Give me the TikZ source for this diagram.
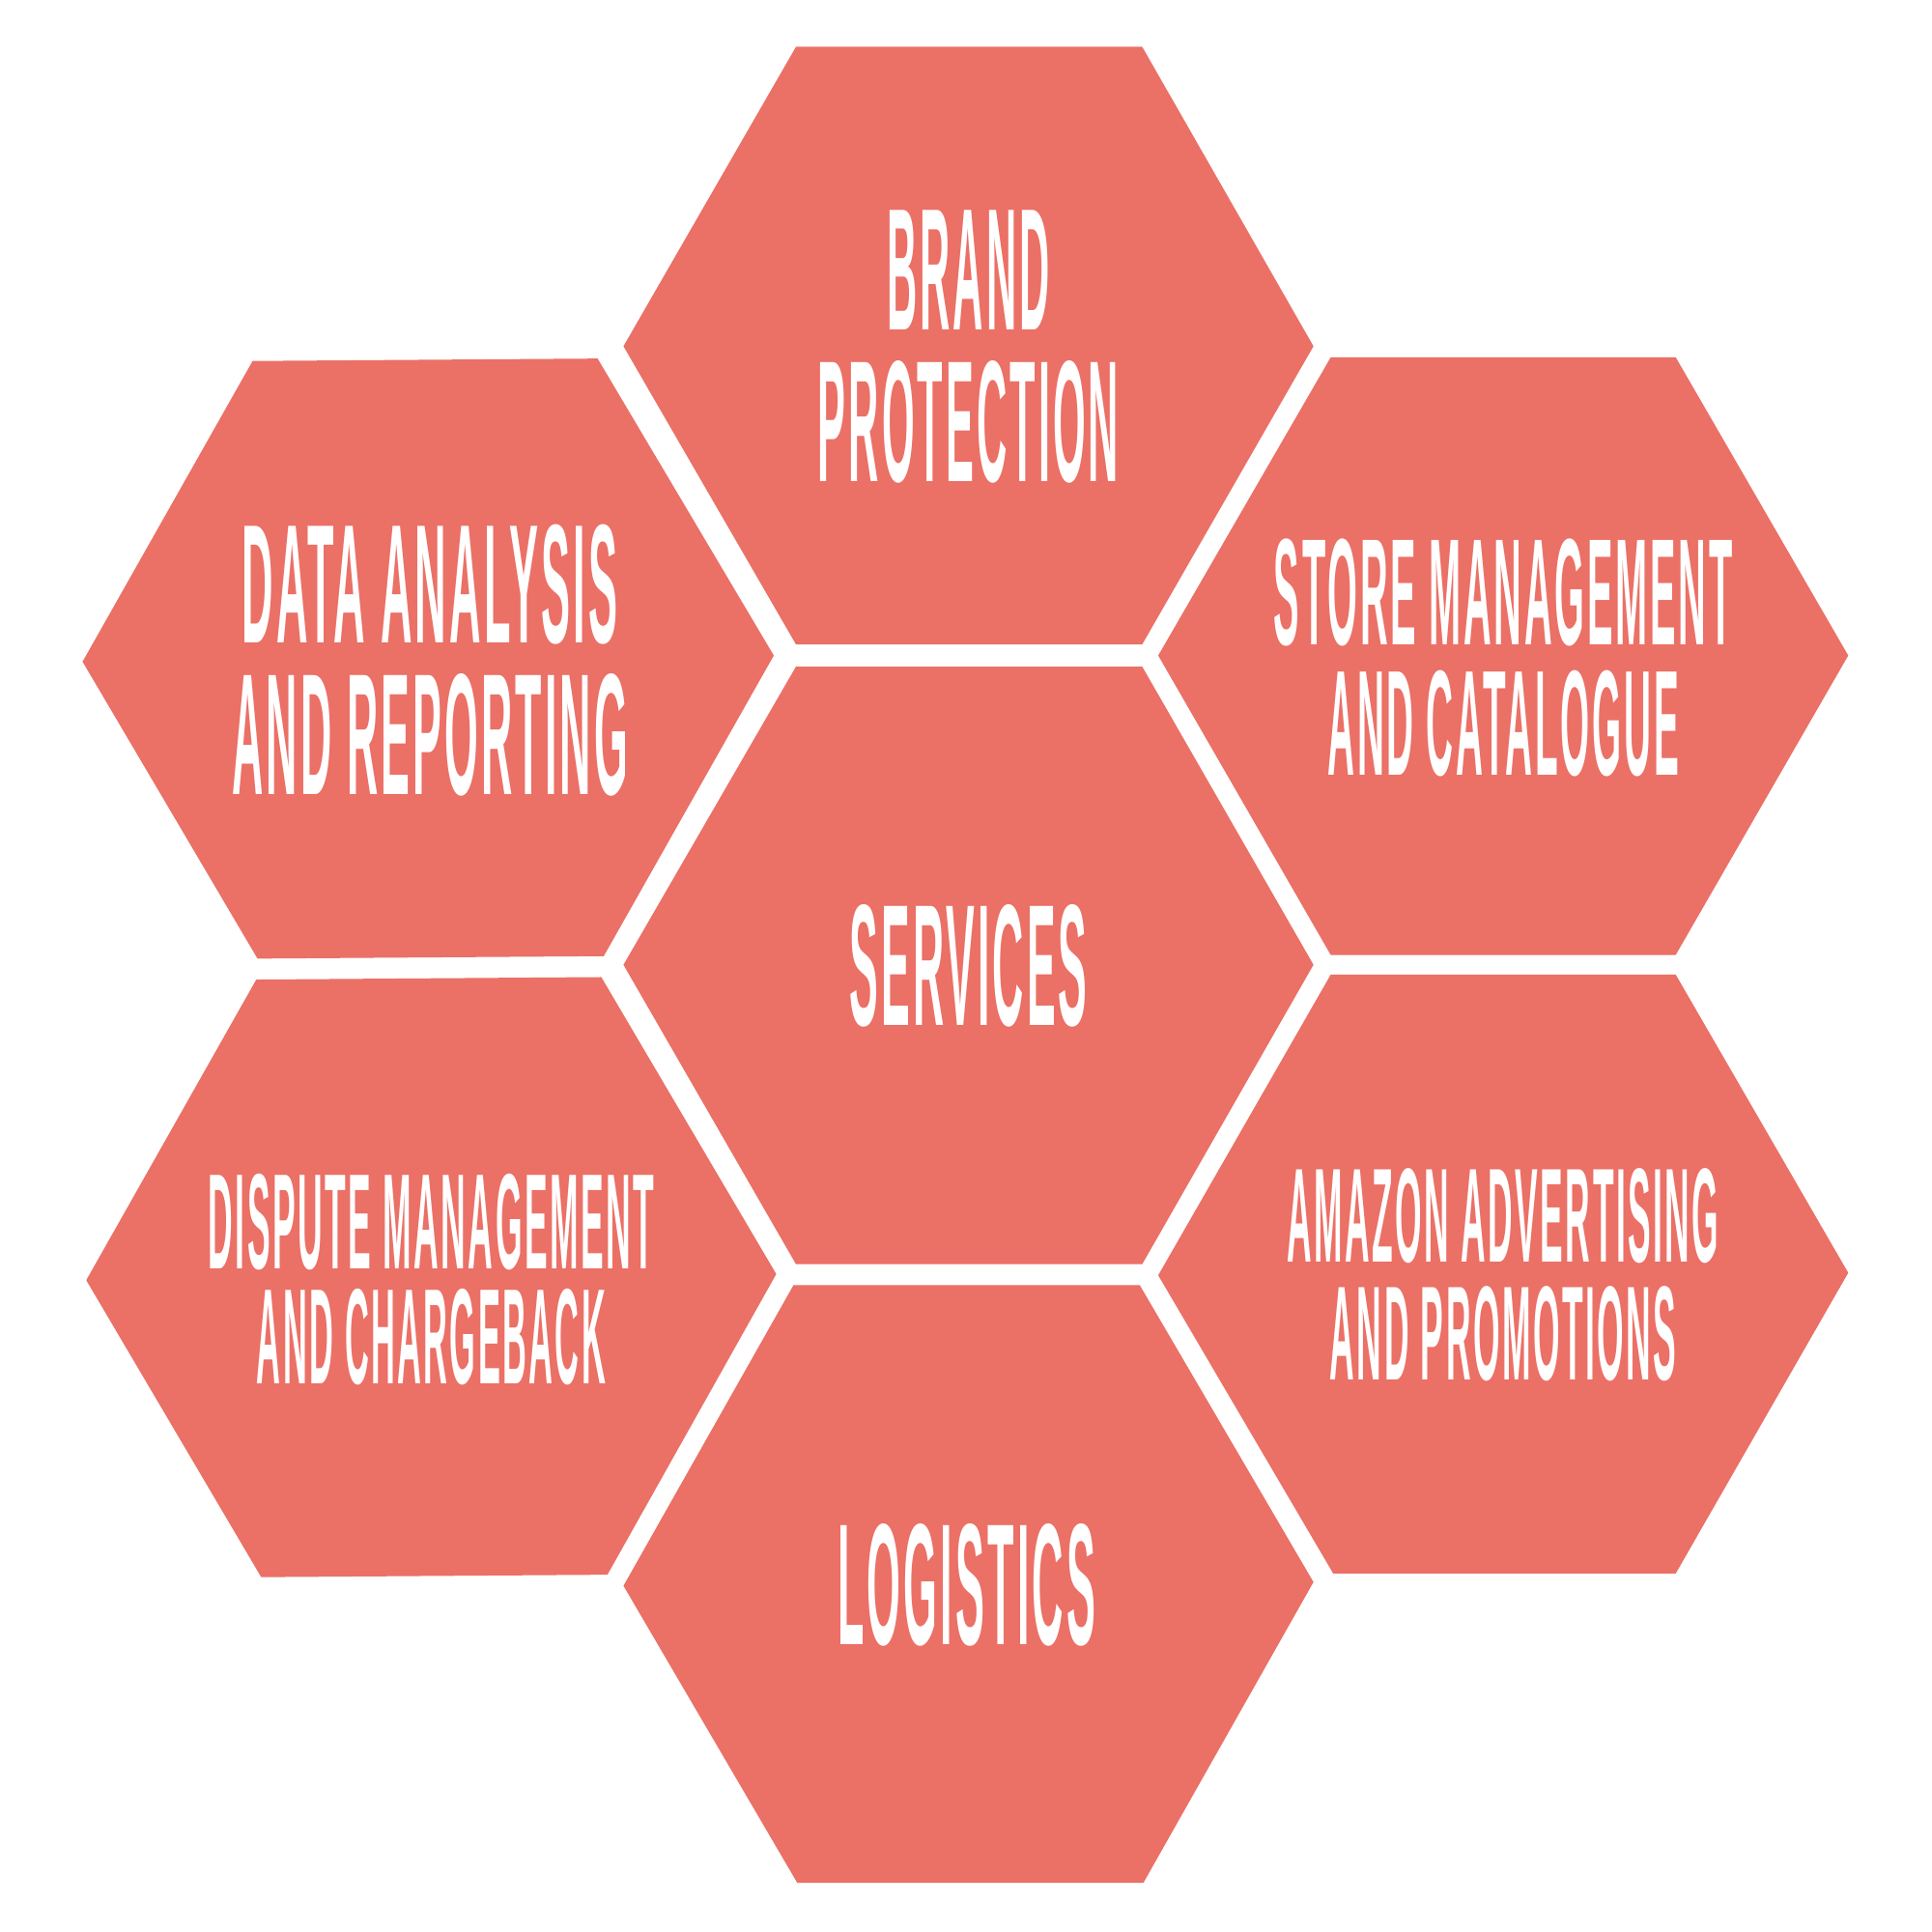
\documentclass[tikz,border=0pt]{standalone}
\usepackage{fontspec}
\setmainfont{Liberation Sans}
\newfontfamily\hexfont[LetterSpace=7]{Liberation Sans Bold}
\definecolor{hexred}{RGB}{235,112,102}
\newlength\pxu
\setlength\pxu{0.36290pt}
\newcommand\fitline[3]{\raisebox{0pt}[\height][0pt]{\resizebox{#1\pxu}{#2\pxu}{\hexfont #3}}}
% two centred lines: w1 h1 text1 gap w2 h2 text2
\newcommand\twolines[7]{\vbox{\offinterlineskip\halign{\hfil##\hfil\cr
  \fitline{#1}{#2}{#3}\cr\noalign{\vskip #4\pxu}\fitline{#5}{#6}{#7}\cr}}}
\begin{document}
\begin{tikzpicture}[x=0.36290pt, y=-0.36290pt,
  hexcell/.style={fill=hexred},
  lbl/.style={inner sep=0pt, outer sep=0pt, text=white}]
\useasboundingbox (0,0) rectangle (1568,1568);
\fill[white] (0,0) rectangle (1568,1568);
% hexagons
\fill[hexcell] (646,38) -- (927,38) -- (1066,281) -- (927,523) -- (646,523) -- (506,281) -- cycle;
\fill[hexcell] (646,541) -- (927,541) -- (1066,783) -- (927,1026) -- (646,1026) -- (506,783) -- cycle;
\fill[hexcell] (644,1043) -- (925,1043) -- (1066,1284) -- (928,1528) -- (647,1528) -- (506,1287) -- cycle;
\fill[hexcell] (1080,290) -- (1360,290) -- (1500,532) -- (1360,775) -- (1080,775) -- (940,532) -- cycle;
\fill[hexcell] (1080,791) -- (1360,791) -- (1500,1033) -- (1360,1277) -- (1082,1277) -- (940,1035) -- cycle;
\fill[hexcell] (205,293) -- (485,291) -- (628,532) -- (490,776) -- (209,778) -- (67,537) -- cycle;
\fill[hexcell] (208,795) -- (488,793) -- (630,1034) -- (493,1278) -- (212,1280) -- (70,1039) -- cycle;
% labels
\node[lbl] (brand) at (786,281) {\twolines{132}{97}{BRAND}{25}{244}{98}{PROTECTION}};
\node[lbl] (data) at (349,535.5) {\twolines{305}{96}{DATA ANALYSIS}{25}{321}{98}{AND REPORTING}};
\node[lbl] (store) at (1220,533) {\twolines{372}{86}{STORE MANAGEMENT}{21}{285}{85}{AND CATALOGUE}};
\node[lbl] (services) at (786,783.5) {\fitline{193}{98}{SERVICES}};
\node[lbl] (dispute) at (350,1038) {\twolines{362}{77}{DISPUTE MANAGEMENT}{16}{283}{77}{AND CHARGEBACK}};
\node[lbl] (amazon) at (1220,1034) {\twolines{350}{76}{AMAZON ADVERTISING}{20}{281}{76}{AND PROMOTIONS}};
\node[lbl] (logistics) at (784.5,1286) {\fitline{209}{98}{LOGISTICS}};
\end{tikzpicture}
\end{document}
